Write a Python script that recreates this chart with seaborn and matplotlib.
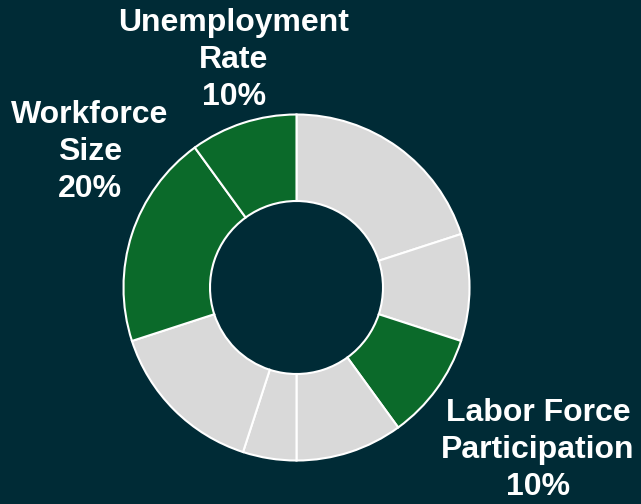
import matplotlib
matplotlib.use("Agg")
import matplotlib.pyplot as plt
import seaborn as sns

# Share of each component, clockwise from 12 o'clock
segments = ["Seg A", "Seg B", "Labor Force Participation", "Seg D",
            "Seg E", "Seg F", "Workforce Size", "Unemployment Rate"]
shares = [20, 10, 10, 10, 5, 15, 20, 10]
highlighted = [False, False, True, False, False, False, True, True]

# Callout labels: (segment name, text lines, x px, y px of block centre)
callouts = [
    ("Unemployment Rate", ["Unemployment", "Rate"], 234, 60),
    ("Workforce Size", ["Workforce", "Size"], 90, 152),
    ("Labor Force Participation", ["Labor Force", "Participation"], 538, 450),
]

BG = "#002B36"
GREEN = "#0B6A2A"
GRAY = "#D9D9D9"

sns.set_style("white")
plt.rcParams["font.family"] = ["Liberation Sans", "DejaVu Sans"]

W, H = 641, 504
fig = plt.figure(figsize=(W / 100, H / 100), dpi=100, facecolor=BG)

cx, cy, r = 296.5, 287.5, 173
ax = fig.add_axes([(cx - r) / W, (H - cy - r) / H, 2 * r / W, 2 * r / H])
ax.set_facecolor(BG)

colors = [GREEN if h else GRAY for h in highlighted]
ax.pie(shares, colors=colors, startangle=90, counterclock=False,
       radius=1.0, wedgeprops=dict(width=0.5, edgecolor="white", linewidth=1.5),
       frame=False)
ax.set_xlim(-1.0, 1.0)
ax.set_ylim(-1.0, 1.0)
ax.set_aspect("equal")
ax.axis("off")

share_of = dict(zip(segments, shares))
for name, lines, x, y in callouts:
    text = "\n".join(lines + [f"{share_of[name]}%"])
    fig.text(x / W, 1 - y / H, text, ha="center", va="center",
             color="white", fontsize=23, fontweight="bold", linespacing=1.32)

fig.savefig("out.png", dpi=100, facecolor=BG)
